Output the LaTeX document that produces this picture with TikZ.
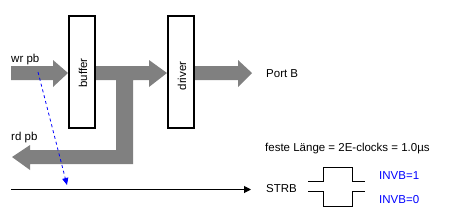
\documentclass[tikz,border=0pt]{standalone}
\usepackage{fontspec}
\setmainfont{Liberation Sans}
\usetikzlibrary{arrows.meta}
\definecolor{bus}{RGB}{128,128,128}
\definecolor{lblue}{RGB}{0,0,255}
\begin{document}
\begin{tikzpicture}[x=1pt,y=-1pt,
  busfill/.style={fill=bus,draw=none},
  blockbox/.style={draw=black,fill=white,line width=2pt,minimum width=26pt,minimum height=112pt,inner sep=0pt},
  vtext/.style={rotate=90,font=\fontsize{11.5}{13}\selectfont,inner sep=0pt},
  lbl/.style={font=\fontsize{11.5}{13}\selectfont,inner sep=0pt,anchor=base west},
  bluelbl/.style={lbl,text=lblue},
  wave/.style={draw=black,line width=1pt}]
\useasboundingbox (0,0) rectangle (450,215);
\coordinate (bufc) at (82,72);
\coordinate (drvc) at (181,72);
% bus arrows (drawn first, boxes on top)
\fill[busfill] (11,66) -- (53,66) -- (53,60) -- (68,73) -- (53,87) -- (53,80) -- (11,80) -- cycle;
\fill[busfill] (95,66) -- (149,66) -- (149,60) -- (167,73) -- (149,87) -- (149,80)
  -- (133,80) -- (133,164) -- (30,164) -- (30,170) -- (12,157) -- (30,145) -- (30,150) -- (116,150) -- (116,80) -- (95,80) -- cycle;
\fill[busfill] (195,66) -- (238,66) -- (238,60) -- (252,73) -- (238,87) -- (238,80) -- (195,80) -- cycle;
% boxes
\node[blockbox] (buffer) at (bufc) {};
\node[blockbox] (driver) at (drvc) {};
\node[vtext] (buftxt) at (83,73) {buffer};
\node[vtext] (drvtxt) at (182,76) {driver};
% labels
\node[lbl] (wr) at (11,62) {wr pb};
\node[lbl] (rd) at (11,140) {rd pb};
\node[lbl] (portb) at (266,77) {Port B};
\node[lbl] (feste) at (265,151) {feste Länge = 2E-clocks = 1.0µs};
\node[lbl] (strb) at (266,192) {STRB};
\node[bluelbl] (inv1) at (379,179) {INVB=1};
\node[bluelbl] (inv0) at (379,203) {INVB=0};
% time line
\coordinate (tl0) at (11,189.5);
\coordinate (tl1) at (251,189.5);
\draw[line width=1pt,-{Triangle[length=7pt,width=7pt]}] (tl0) -- (tl1);
% blue dashed
\coordinate (b0) at (38,72);
\coordinate (b1) at (67,185);
\draw[lblue,line width=0.8pt,dash pattern=on 3pt off 3pt,-{Triangle[length=7pt,width=6pt]}] (b0) -- (b1);
% waveforms
\draw[wave] (308,181) -- (323,181) -- (323,167) -- (352,167) -- (352,181) -- (365,181);
\draw[wave] (308,191) -- (323,191) -- (323,206) -- (352,206) -- (352,191) -- (365,191);
\end{tikzpicture}
\end{document}
